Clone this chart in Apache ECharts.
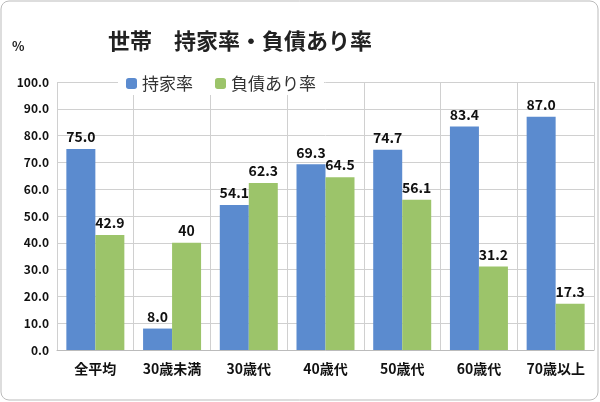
<!DOCTYPE html>
<html><head><meta charset="utf-8">
<script src="https://cdn.jsdelivr.net/npm/echarts@6/dist/echarts.min.js"></script>
<style>html,body{margin:0;padding:0;background:#fff}#c{width:600px;height:402px}</style>
</head><body><div id="c"></div>
<script>
const categories = ['全平均','30歳未満','30歳代','40歳代','50歳代','60歳代','70歳以上'];
const ownRate = [75.0, 8.0, 54.1, 69.3, 74.7, 83.4, 87.0];
const debtRate = [42.9, 40, 62.3, 64.5, 56.1, 31.2, 17.3];
const debtLabels = ['42.9','40','62.3','64.5','56.1','31.2','17.3'];
const chart = echarts.init(document.getElementById('c'));
const font = '"Noto Sans CJK JP", sans-serif';
chart.setOption({
  animation:false,
  textStyle:{fontFamily:font},
  graphic:[{type:'rect',shape:{x:1,y:1,width:597,height:399,r:8},style:{fill:'none',stroke:'#bbb',lineWidth:1}},
    {type:'text',left:12,top:40,style:{text:'%',font:'bold 13px '+font,fill:'#222'}},
    {type:'text',left:108,top:30,style:{text:'世帯　持家率・負債あり率',font:'bold 22px '+font,fill:'#222'}}],
  legend:{top:72,left:118,itemWidth:11,itemHeight:11,itemGap:22,backgroundColor:'#fff',padding:[3,8],
    textStyle:{fontSize:17,color:'#333',fontFamily:font},data:['持家率','負債あり率']},
  grid:{left:57,right:6,top:82,bottom:52},
  xAxis:{type:'category',data:categories,axisTick:{show:false},
    axisLine:{lineStyle:{color:'#bbb'}},splitLine:{show:true,lineStyle:{color:'#d0d0d0'}},
    axisLabel:{color:'#111',fontSize:14,fontWeight:'bold',margin:12,fontFamily:font}},
  yAxis:{type:'value',min:0,max:100,interval:10,
    axisLabel:{color:'#111',fontSize:12,fontWeight:'bold',formatter:v=>v.toFixed(1),fontFamily:font},
    splitLine:{lineStyle:{color:'#d0d0d0'}},axisLine:{show:false}},
  series:[
    {name:'持家率',type:'bar',data:ownRate,barWidth:29,barGap:'0%',
     itemStyle:{color:'#5b8bcf'},
     label:{show:true,position:'top',color:'#111',fontSize:14,fontWeight:'bold',formatter:p=>p.value.toFixed(1)}},
    {name:'負債あり率',type:'bar',data:debtRate,barWidth:29,
     itemStyle:{color:'#9cc46a'},
     label:{show:true,position:'top',color:'#111',fontSize:14,fontWeight:'bold',formatter:p=>debtLabels[p.dataIndex]}}
  ]
});
</script></body></html>
